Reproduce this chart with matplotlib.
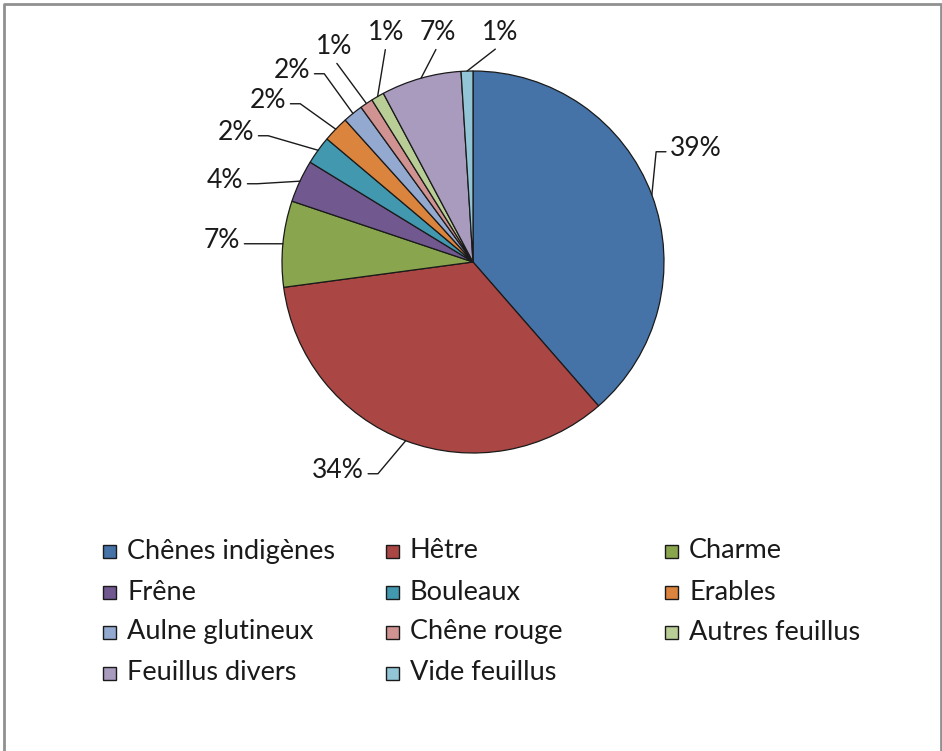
import matplotlib
matplotlib.use("Agg")
import matplotlib.pyplot as plt
from matplotlib.patches import Rectangle
from matplotlib.lines import Line2D
import numpy as np

# essences feuillues (%)
essences = ["Chênes indigènes", "Hêtre", "Charme", "Frêne", "Bouleaux", "Erables",
            "Aulne glutineux", "Chêne rouge", "Autres feuillus", "Feuillus divers",
            "Vide feuillus"]
parts = [38.7, 34.4, 7.3, 3.6, 2.4, 2.2, 1.7, 1.1, 1.1, 6.8, 1.0]
couleurs = ["#4572A7", "#AA4643", "#89A54E", "#71588F", "#4198AF", "#DB843D",
            "#93A9CF", "#D19392", "#B9CD96", "#A99BBD", "#92C5D6"]

# position des etiquettes (pixels de l'image)
pos_etiq = [(696, 148), (338, 470), (222, 240), (225, 180), (236, 132), (268, 100),
            (292, 70), (334, 47), (386, 33), (438, 33), (500, 33)]

plt.rcParams['font.family'] = ['Lato', 'DejaVu Sans']

W, H = 942, 751
fig = plt.figure(figsize=(W / 100, H / 100), dpi=100)
cx, cy, r = 473, 262, 191
ax = fig.add_axes([(cx - r * 1.5) / W, 1 - (cy + r * 1.5) / H, 3 * r / W, 3 * r / H])

wedges, _ = ax.pie(parts, colors=couleurs, startangle=90, counterclock=False,
                   radius=1, wedgeprops=dict(edgecolor='#1a1a1a', linewidth=0.9))
ax.set_xlim(-1.5, 1.5)
ax.set_ylim(-1.5, 1.5)
ax.axis('off')

total = sum(parts)
for w, v, (px, py) in zip(wedges, parts, pos_etiq):
    ang = np.deg2rad((w.theta1 + w.theta2) / 2)
    x, y = np.cos(ang), np.sin(ang)
    tx, ty = (px - cx) / r, (cy - py) / r
    if abs(tx - x) < 0.2:
        rp, cs = (0.5, 0), "arc3"
    elif tx > x:
        rp, cs = (0, 0.35), "arc,angleA=180,armA=14,angleB=0,armB=0,rad=0"
    else:
        rp, cs = (1, 0.35), "arc,angleA=0,armA=14,angleB=0,armB=0,rad=0"
    ax.annotate(f"{100 * v / total:.0f}%", xy=(x, y), xytext=(tx, ty),
                ha='center', va='center', fontsize=19, color='#1a1a1a',
                arrowprops=dict(arrowstyle='-', color='#1a1a1a', lw=1,
                                shrinkA=1, shrinkB=0, relpos=rp,
                                connectionstyle=cs))

# legende
col_x = [103, 386, 665]
row_y = [551, 592, 632, 673]
for i, (nom, c) in enumerate(zip(essences, couleurs)):
    x0 = col_x[i % 3]
    y0 = row_y[i // 3]
    fig.patches.append(Rectangle((x0 / W, 1 - (y0 + 7) / H), 13 / W, 13 / H,
                                 transform=fig.transFigure, facecolor=c,
                                 edgecolor='#1a1a1a', linewidth=1))
    fig.text((x0 + 24) / W, 1 - y0 / H, nom, fontsize=19.5, va='center',
             ha='left', color='#1a1a1a')

# cadre (gauche, haut, droite)
fx = [3.5 / W, 3.5 / W, 940.5 / W, 940.5 / W]
fy = [0, 1 - 3.5 / H, 1 - 3.5 / H, 0]
fig.lines.append(Line2D(fx, fy, transform=fig.transFigure, color='#909090', lw=2))

fig.savefig("out.png", dpi=100, facecolor='white')
